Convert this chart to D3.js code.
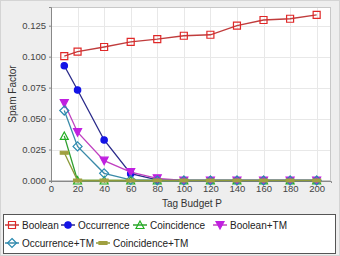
<!DOCTYPE html>
<html>
<head>
<meta charset="utf-8">
<script src="https://cdn.jsdelivr.net/npm/d3@7"></script>
<style>
  body { margin: 0; background: #fff; }
  svg { display: block; font-family: "Liberation Sans", Arial, sans-serif; }
  .tick text { fill: #444; font-size: 9.5px; font-family: "Liberation Sans", Arial, sans-serif; }
</style>
</head>
<body>
<div id="chart"></div>
<script>
// tag budget values on the x axis
let budgets = [10, 20, 40, 60, 80, 100, 120, 140, 160, 180, 200];

let boolean      = [0.1005, 0.1040, 0.1078, 0.1120, 0.1142, 0.1169, 0.1177, 0.1250, 0.1296, 0.1306, 0.1338];
let occurrence   = [0.0927, 0.0731, 0.0327, 0.0055, 0.0005, 0, 0, 0, 0, 0, 0];
let coincidence  = [0.0360, 0, 0, 0, 0, 0, 0, 0, 0, 0, 0];
let booleanTM    = [0.0625, 0.0390, 0.0160, 0.0068, 0.0018, 0, 0, 0, 0, 0, 0];
let occurrenceTM = [0.0565, 0.0275, 0.0058, 0.0005, 0, 0, 0, 0, 0, 0, 0];
let coincidenceTM= [0.0224, 0, 0, 0, 0, 0, 0, 0, 0, 0, 0];

let xTicks = [0, 20, 40, 60, 80, 100, 120, 140, 160, 180, 200];
let yTicks = [0, 0.025, 0.05, 0.075, 0.1, 0.125];

let series = [
    {name: "Boolean",        values: boolean,       line: "#c03c3c", color: "#e02828", shape: "square",   fill: false},
    {name: "Occurrence",     values: occurrence,    line: "#2a2a8a", color: "#1414e6", shape: "circle",   fill: true},
    {name: "Coincidence",    values: coincidence,   line: "#30a030", color: "#22b022", shape: "triangle", fill: false},
    {name: "Boolean+TM",     values: booleanTM,     line: "#c040c0", color: "#c020e0", shape: "triDown",  fill: true},
    {name: "Occurrence+TM",  values: occurrenceTM,  line: "#3a8aa8", color: "#2a8ab0", shape: "diamond",  fill: false},
    {name: "Coincidence+TM", values: coincidenceTM, line: "#8c9a3a", color: "#a0a040", shape: "rect",     fill: true}
];

let width = 340, height = 256;
let plot = {left: 51, top: 7, right: 331, bottom: 181};

let svg = d3.select("#chart").append("svg")
    .attr("width", width)
    .attr("height", height);

// outer panel
svg.append("rect")
    .attr("x", 0.5).attr("y", 0.5)
    .attr("width", width - 1).attr("height", height - 1)
    .attr("fill", "#eeeeee")
    .attr("stroke", "#d4d4d4");

let x = d3.scaleLinear().domain([0, 210.8]).range([plot.left, plot.right]);
let y = d3.scaleLinear().domain([-0.0004, 0.1401]).range([plot.bottom, plot.top]);

svg.append("rect")
    .attr("x", plot.left).attr("y", plot.top)
    .attr("width", plot.right - plot.left).attr("height", plot.bottom - plot.top)
    .attr("fill", "#fff");

// grid
let grid = svg.append("g").attr("stroke", "#e8e8e8").attr("stroke-width", 1);
grid.selectAll(".vx").data(xTicks.slice(1)).enter().append("line")
    .attr("x1", (d) => Math.round(x(d)) + 0.5).attr("x2", (d) => Math.round(x(d)) + 0.5)
    .attr("y1", plot.top).attr("y2", plot.bottom);
grid.selectAll(".hy").data(yTicks.slice(1)).enter().append("line")
    .attr("y1", (d) => Math.round(y(d)) + 0.5).attr("y2", (d) => Math.round(y(d)) + 0.5)
    .attr("x1", plot.left).attr("x2", plot.right);

// plot border
svg.append("rect")
    .attr("x", plot.left + 0.5).attr("y", plot.top + 0.5)
    .attr("width", plot.right - plot.left - 1).attr("height", plot.bottom - plot.top - 1)
    .attr("fill", "none")
    .attr("stroke", "#c8c8c8");

// axes
let xAxis = svg.append("g")
    .attr("transform", "translate(0," + plot.bottom + ")")
    .call(d3.axisBottom(x).tickValues(xTicks).tickSize(2).tickPadding(2).tickFormat(d3.format("d")));
let yAxis = svg.append("g")
    .attr("transform", "translate(" + plot.left + ",0)")
    .call(d3.axisLeft(y).tickValues(yTicks).tickSize(2).tickPadding(3).tickFormat(d3.format(".3f")));
[xAxis, yAxis].forEach(function(a) {
    a.selectAll(".domain").attr("stroke", "#888");
    a.selectAll(".tick line").attr("stroke", "#888");
});

svg.append("text")
    .attr("x", (plot.left + plot.right) / 2 + 1)
    .attr("y", 207)
    .attr("text-anchor", "middle")
    .attr("font-size", "10px")
    .attr("fill", "#333")
    .text("Tag Budget P");

svg.append("text")
    .attr("transform", "translate(16," + (plot.top + plot.bottom) / 2 + ") rotate(-90)")
    .attr("text-anchor", "middle")
    .attr("font-size", "10px")
    .attr("fill", "#333")
    .text("Spam Factor");

function shapePath(shape) {
    if (shape === "square") return "M-3.5,-3.5H3.5V3.5H-3.5Z";
    if (shape === "circle") return "M3.2,0A3.2,3.2 0 1,1 -3.2,0A3.2,3.2 0 1,1 3.2,0Z";
    if (shape === "triangle") return "M0,-4L4,3.5H-4Z";
    if (shape === "triDown") return "M-4,-3.5H4L0,4Z";
    if (shape === "diamond") return "M0,-4.5L4.5,0L0,4.5L-4.5,0Z";
    return "M-4,-1.5H4V1.5H-4Z";
}

let line = d3.line()
    .x((d, i) => x(budgets[i]))
    .y((d) => y(d));

series.forEach(function(s) {
    let g = svg.append("g");
    g.append("path")
        .attr("d", line(s.values))
        .attr("fill", "none")
        .attr("stroke", s.line)
        .attr("stroke-width", 1.3);
    g.selectAll("path.pt")
        .data(s.values)
        .enter()
        .append("path")
        .attr("class", "pt")
        .attr("transform", (d, i) => "translate(" + x(budgets[i]) + "," + y(d) + ")")
        .attr("d", shapePath(s.shape))
        .attr("fill", s.fill ? s.color : "none")
        .attr("stroke", s.color)
        .attr("stroke-width", 1.2);
});

// legend
let legend = svg.append("g");
legend.append("rect")
    .attr("x", 3.5).attr("y", 214.5)
    .attr("width", 332).attr("height", 39)
    .attr("fill", "#fff")
    .attr("stroke", "#555");

let legendPos = [
    {x: 12, y: 225}, {x: 68, y: 225}, {x: 140, y: 225}, {x: 220, y: 225},
    {x: 12, y: 243}, {x: 103, y: 243}
];

series.forEach(function(s, i) {
    let p = legendPos[i];
    let item = legend.append("g").attr("transform", "translate(" + p.x + "," + p.y + ")");
    item.append("line")
        .attr("x1", -7).attr("x2", 7)
        .attr("stroke", s.line)
        .attr("stroke-width", 1.5);
    item.append("path")
        .attr("d", shapePath(s.shape))
        .attr("fill", s.fill ? s.color : "none")
        .attr("stroke", s.color)
        .attr("stroke-width", 1.2);
    item.append("text")
        .attr("x", 10)
        .attr("y", 3.5)
        .attr("font-size", "10px")
        .attr("fill", "#222")
        .text(s.name);
});
</script>
</body>
</html>
